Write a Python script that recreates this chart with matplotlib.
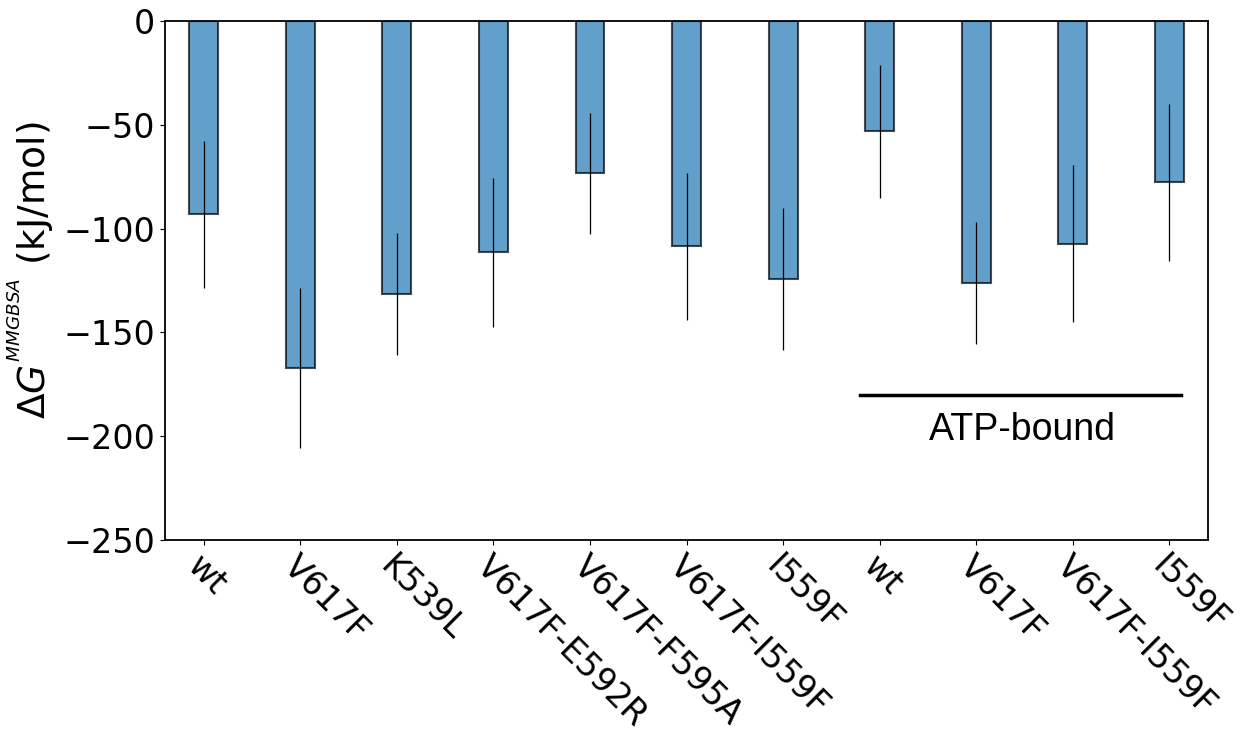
import numpy as np
import matplotlib
matplotlib.use("Agg")
from matplotlib import pyplot as plt

# MM/GBSA binding free energies, apo systems first, then ATP-bound
labels = ["wt", "V617F", "K539L", "V617F-E592R", "V617F-F595A", "V617F-I559F",
          "I559F", "wt", "V617F", "V617F-I559F", "I559F"]
dg_mean = [-93.2, -167.2, -131.5, -111.4, -73.3, -108.5, -124.3, -53.2, -126.2, -107.2, -77.7]
dg_std = [35.3, 38.4, 29.6, 36.0, 29.1, 35.5, 34.0, 32.0, 29.5, 38.0, 37.9]

# ATP-bound group marker
atp_span = [6.8, 10.12]
atp_y = -180

x = np.arange(len(labels))

fig = plt.figure(figsize=(12.42, 7.36), dpi=100)
ax = fig.add_axes([0.1329, 0.2663, 0.8398, 0.7052])

ax.bar(x, dg_mean, width=0.3, color="tab:blue", edgecolor="black",
       linewidth=1.5, alpha=0.7)
ax.errorbar(x, dg_mean, yerr=dg_std, fmt="none", ecolor="black", elinewidth=0.9)

ax.plot(atp_span, [atp_y, atp_y], color="black", linewidth=2.5)
ax.text(8.48, -197, "ATP-bound", ha="center", va="center",
        fontsize=27, family="Liberation Sans")

ax.set_xlim(-0.4, 10.4)
ax.set_ylim(-250, 0)
ax.set_xticks(x)
ax.set_xticklabels(labels, rotation=-45, ha="left", rotation_mode="anchor", fontsize=24)
ax.tick_params(axis="y", labelsize=24)
# nested superscript keeps the MMGBSA tag small
ax.set_ylabel(r"$\Delta G^{{}^{MMGBSA}}$ (kJ/mol)", fontsize=27, labelpad=8)
ax.yaxis.set_label_coords(-0.105, 0.52)

for s in ax.spines.values():
    s.set_linewidth(1.3)

fig.savefig("out.png", dpi=100)
